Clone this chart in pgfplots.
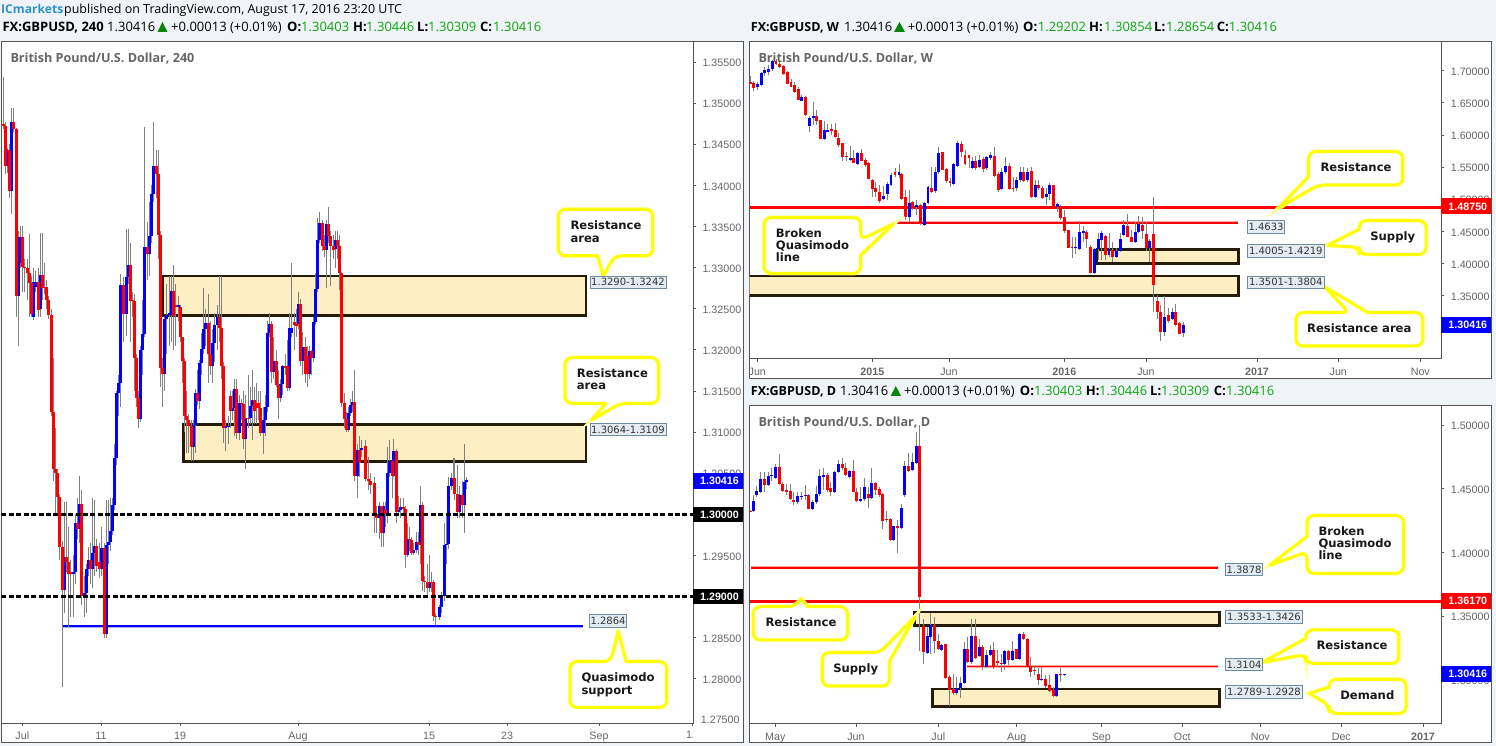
\documentclass[border=0pt]{standalone}
\usepackage{fontspec}
\usepackage{pgfplots}
\usepackage{pgfplotstable}
\pgfplotsset{compat=1.18}
\setmainfont{Liberation Sans}
\newfontfamily\hdr{Open Sans}
\newfontfamily\dv{DejaVu Sans}
\definecolor{pagebg}{HTML}{F0F3F7}
\definecolor{framec}{HTML}{555555}
\definecolor{tickc}{HTML}{666666}
\definecolor{wick}{HTML}{808080}
\definecolor{zonef}{HTML}{FDEFC3}
\definecolor{zoned}{HTML}{241C06}
\definecolor{upc}{HTML}{0000FF}
\definecolor{dnc}{HTML}{FF0000}
\definecolor{gval}{HTML}{0BA80B}
\definecolor{icb}{HTML}{2B93C9}
\definecolor{boxf}{HTML}{E3ECF3}
\definecolor{boxd}{HTML}{6F8BA0}
\definecolor{yel}{HTML}{FFFF00}
\definecolor{titlec}{HTML}{666666}

% 240 chart: x is 3 x pixel position
\pgfplotstableread{
x O H L C
10 1.3474 1.3532 1.3468 1.3472
16 1.3472 1.3477 1.3414 1.3424
22 1.3424 1.3445 1.3415 1.3443
28 1.3443 1.3450 1.3385 1.3393
34 1.3393 1.3494 1.3365 1.3477
42 1.3477 1.3494 1.3465 1.3469
49 1.3468 1.3470 1.3240 1.3265
56 1.3265 1.3345 1.3205 1.3337
62 1.3305 1.3350 1.3300 1.3337
69 1.3337 1.3350 1.3270 1.3301
75 1.3301 1.3310 1.3270 1.3299
82 1.3299 1.3310 1.3260 1.3293
88 1.3293 1.3341 1.3240 1.3281
95 1.3281 1.3290 1.3240 1.3244
101 1.3240 1.3299 1.3236 1.3282
108 1.3277 1.3296 1.3270 1.3282
115 1.3282 1.3300 1.3240 1.3248
121 1.3250 1.3342 1.3240 1.3291
128 1.3291 1.3342 1.3260 1.3275
134 1.3277 1.3305 1.3268 1.3275
140 1.3277 1.3285 1.3250 1.3261
147 1.3261 1.3265 1.3238 1.3242
155 1.3242 1.3250 1.3120 1.3125
160 1.3125 1.3190 1.3040 1.3055
167 1.3055 1.3105 1.3000 1.3050
172 1.3050 1.3055 1.3000 1.3021
178 1.3021 1.3025 1.2945 1.2960
187 1.2960 1.2968 1.2790 1.2908
193 1.2908 1.3015 1.2880 1.2948
200 1.2948 1.3015 1.2930 1.2942
206 1.2942 1.2985 1.2863 1.2927
213 1.2930 1.2945 1.2875 1.2927
219 1.2927 1.2950 1.2875 1.2930
226 1.2930 1.3000 1.2915 1.2989
232 1.2989 1.3020 1.2970 1.2982
238 1.2982 1.3046 1.2965 1.3013
245 1.3013 1.3030 1.2890 1.2901
252 1.2901 1.2925 1.2875 1.2904
259 1.2904 1.2940 1.2880 1.2934
265 1.2934 1.2960 1.2925 1.2945
271 1.2945 1.2965 1.2915 1.2934
277 1.2934 1.3020 1.2910 1.2953
283 1.2953 1.3017 1.2925 1.2962
291 1.2962 1.2970 1.2930 1.2937
298 1.2942 1.2965 1.2922 1.2934
305 1.2934 1.2985 1.2925 1.2959
312 1.2959 1.2965 1.2850 1.2855
318 1.2855 1.3017 1.2850 1.2963
325 1.2963 1.3017 1.2940 1.2966
331 1.2966 1.3020 1.2955 1.2980
337 1.2980 1.3020 1.2975 1.3011
343 1.3011 1.3085 1.3005 1.3069
349 1.3069 1.3150 1.3060 1.3148
355 1.3148 1.3170 1.3120 1.3160
362 1.3160 1.3292 1.3130 1.3279
371 1.3279 1.3288 1.3210 1.3244
378 1.3244 1.3347 1.3217 1.3288
384 1.3288 1.3347 1.3280 1.3303
390 1.3303 1.3330 1.3210 1.3259
397 1.3261 1.3270 1.3240 1.3259
403 1.3259 1.3268 1.3150 1.3190
409 1.3190 1.3195 1.3130 1.3142
415 1.3142 1.3150 1.3105 1.3116
421 1.3116 1.3205 1.3112 1.3200
427 1.3200 1.3260 1.3170 1.3219
434 1.3219 1.3471 1.3215 1.3325
441 1.3325 1.3355 1.3285 1.3317
448 1.3317 1.3380 1.3290 1.3339
455 1.3339 1.3400 1.3330 1.3389
461 1.3389 1.3477 1.3380 1.3423
468 1.3423 1.3443 1.3385 1.3414
475 1.3414 1.3443 1.3310 1.3340
481 1.3340 1.3345 1.3155 1.3178
487 1.3178 1.3190 1.3131 1.3171
493 1.3171 1.3240 1.3150 1.3238
500 1.3238 1.3280 1.3195 1.3242
507 1.3242 1.3290 1.3205 1.3245
513 1.3242 1.3290 1.3210 1.3272
520 1.3272 1.3303 1.3200 1.3241
527 1.3254 1.3280 1.3205 1.3252
534 1.3252 1.3265 1.3235 1.3254
541 1.3252 1.3255 1.3210 1.3215
548 1.3215 1.3215 1.3160 1.3186
554 1.3186 1.3190 1.3100 1.3120
560 1.3120 1.3150 1.3075 1.3115
566 1.3115 1.3122 1.3075 1.3107
573 1.3107 1.3115 1.3065 1.3082
580 1.3082 1.3115 1.3065 1.3109
586 1.3109 1.3152 1.3075 1.3148
592 1.3148 1.3175 1.3133 1.3138
598 1.3138 1.3188 1.3128 1.3184
604 1.3184 1.3220 1.3170 1.3201
611 1.3201 1.3275 1.3195 1.3225
617 1.3225 1.3250 1.3205 1.3233
624 1.3233 1.3268 1.3160 1.3195
631 1.3195 1.3235 1.3170 1.3180
637 1.3180 1.3225 1.3160 1.3208
644 1.3208 1.3245 1.3185 1.3230
651 1.3230 1.3255 1.3200 1.3240
658 1.3240 1.3290 1.3210 1.3226
665 1.3226 1.3290 1.3165 1.3180
670 1.3180 1.3185 1.3087 1.3105
677 1.3105 1.3115 1.3077 1.3107
684 1.3107 1.3120 1.3085 1.3108
691 1.3144 1.3150 1.3105 1.3126
697 1.3126 1.3150 1.3115 1.3129
704 1.3129 1.3165 1.3095 1.3152
710 1.3152 1.3165 1.3092 1.3099
717 1.3099 1.3145 1.3090 1.3135
723 1.3135 1.3140 1.3115 1.3134
730 1.3134 1.3150 1.3080 1.3091
736 1.3091 1.3145 1.3055 1.3117
744 1.3117 1.3170 1.3105 1.3116
751 1.3117 1.3155 1.3110 1.3132
757 1.3132 1.3175 1.3090 1.3139
763 1.3139 1.3155 1.3110 1.3126
770 1.3135 1.3160 1.3110 1.3129
776 1.3135 1.3150 1.3115 1.3129
782 1.3129 1.3150 1.3095 1.3099
790 1.3099 1.3130 1.3073 1.3115
796 1.3115 1.3145 1.3095 1.3130
802 1.3130 1.3235 1.3125 1.3220
808 1.3220 1.3245 1.3215 1.3232
815 1.3231 1.3235 1.3160 1.3173
821 1.3173 1.3215 1.3165 1.3186
828 1.3186 1.3200 1.3155 1.3157
835 1.3157 1.3175 1.3116 1.3141
841 1.3141 1.3165 1.3137 1.3159
847 1.3159 1.3181 1.3145 1.3180
855 1.3180 1.3195 1.3170 1.3178
862 1.3180 1.3212 1.3150 1.3154
868 1.3154 1.3245 1.3150 1.3226
875 1.3220 1.3305 1.3215 1.3226
882 1.3234 1.3245 1.3200 1.3230
888 1.3232 1.3250 1.3215 1.3229
895 1.3232 1.3270 1.3225 1.3256
901 1.3256 1.3262 1.3180 1.3187
908 1.3187 1.3222 1.3170 1.3204
915 1.3204 1.3215 1.3160 1.3171
922 1.3192 1.3205 1.3155 1.3171
928 1.3171 1.3205 1.3165 1.3198
935 1.3198 1.3200 1.3170 1.3190
941 1.3190 1.3240 1.3185 1.3234
947 1.3234 1.3293 1.3230 1.3274
953 1.3274 1.3360 1.3270 1.3334
959 1.3334 1.3368 1.3330 1.3354
966 1.3354 1.3358 1.3320 1.3326
972 1.3326 1.3340 1.3313 1.3321
978 1.3321 1.3358 1.3275 1.3353
985 1.3353 1.3374 1.3330 1.3338
991 1.3338 1.3345 1.3278 1.3326
1000 1.3326 1.3340 1.3310 1.3321
1007 1.3322 1.3345 1.3300 1.3334
1013 1.3334 1.3345 1.3310 1.3326
1019 1.3326 1.3340 1.3273 1.3293
1025 1.3293 1.3295 1.3130 1.3135
1032 1.3135 1.3148 1.3105 1.3116
1040 1.3116 1.3125 1.3100 1.3103
1046 1.3103 1.3130 1.3100 1.3123
1052 1.3123 1.3140 1.3120 1.3133
1058 1.3133 1.3150 1.3125 1.3136
1064 1.3136 1.3175 1.3040 1.3046
1072 1.3046 1.3085 1.3020 1.3078
1079 1.3078 1.3095 1.3045 1.3062
1085 1.3078 1.3090 1.3070 1.3081
1096 1.3083 1.3090 1.3040 1.3043
1104 1.3043 1.3070 1.3030 1.3040
1110 1.3040 1.3050 1.3025 1.3036
1122 1.3038 1.3045 1.2977 1.3001
1130 1.3001 1.3010 1.2977 1.2996
1138 1.2996 1.3015 1.2970 1.3010
1145 1.3010 1.3010 1.2960 1.2977
1150 1.2977 1.3015 1.2960 1.3010
1156 1.3007 1.3015 1.2985 1.3000
1162 1.3000 1.3082 1.2990 1.3050
1168 1.3050 1.3090 1.3045 1.3065
1176 1.3065 1.3070 1.3020 1.3047
1181 1.3047 1.3092 1.3045 1.3077
1188 1.3077 1.3080 1.2990 1.3003
1195 1.3003 1.3022 1.2998 1.3005
1202 1.3005 1.3020 1.2995 1.3009
1210 1.3009 1.3020 1.3000 1.3007
1217 1.3007 1.3010 1.2935 1.2951
1224 1.2951 1.2990 1.2948 1.2970
1230 1.2970 1.2985 1.2955 1.2969
1235 1.2969 1.2972 1.2950 1.2953
1242 1.2953 1.2965 1.2950 1.2957
1250 1.2957 1.2978 1.2953 1.2966
1257 1.2966 1.2978 1.2950 1.2963
1262 1.2963 1.3034 1.2940 1.3011
1268 1.3011 1.3015 1.2907 1.2919
1275 1.2919 1.2925 1.2905 1.2918
1282 1.2918 1.2940 1.2900 1.2910
1289 1.2910 1.2950 1.2905 1.2918
1296 1.2918 1.2930 1.2905 1.2916
1300 1.2918 1.2920 1.2870 1.2876
1307 1.2876 1.2880 1.2865 1.2875
1317 1.2875 1.2890 1.2872 1.2887
1325 1.2887 1.2905 1.2880 1.2901
1332 1.2901 1.2990 1.2895 1.2963
1340 1.2963 1.3000 1.2940 1.2964
1346 1.2964 1.3045 1.2958 1.3034
1354 1.3034 1.3050 1.3030 1.3044
1360 1.3044 1.3069 1.3040 1.3043
1365 1.3044 1.3069 1.3018 1.3025
1373 1.3025 1.3060 1.2995 1.3003
1380 1.3003 1.3035 1.2995 1.3023
1387 1.3023 1.3040 1.2995 1.3011
1394 1.3011 1.3085 1.2977 1.3039
1400 1.3039 1.3045 1.3031 1.3042
}\dataL

% weekly chart
\pgfplotstableread{
x O H L C
2251 1.683 1.692 1.680 1.680
2260 1.681 1.684 1.669 1.673
2272 1.674 1.683 1.670 1.679
2284 1.678 1.698 1.676 1.696
2293 1.696 1.706 1.692 1.701
2305 1.698 1.709 1.693 1.702
2317 1.702 1.717 1.700 1.715
2328 1.715 1.718 1.709 1.711
2339 1.711 1.717 1.704 1.706
2350 1.707 1.709 1.693 1.695
2362 1.698 1.699 1.679 1.680
2373 1.682 1.687 1.674 1.675
2384 1.677 1.683 1.666 1.667
2395 1.672 1.674 1.654 1.655
2405 1.653 1.662 1.653 1.659
2417 1.659 1.661 1.629 1.631
2428 1.614 1.629 1.605 1.627
2441 1.626 1.652 1.616 1.629
2450 1.630 1.639 1.616 1.622
2462 1.623 1.624 1.593 1.594
2474 1.594 1.621 1.593 1.607
2483 1.605 1.617 1.605 1.608
2495 1.609 1.617 1.600 1.606
2506 1.608 1.619 1.596 1.597
2516 1.595 1.603 1.582 1.584
2528 1.587 1.588 1.560 1.565
2540 1.567 1.574 1.559 1.565
2551 1.561 1.583 1.560 1.564
2561 1.564 1.577 1.556 1.557
2573 1.555 1.573 1.553 1.572
2585 1.572 1.578 1.559 1.560
2596 1.561 1.564 1.550 1.553
2606 1.556 1.558 1.531 1.532
2617 1.530 1.531 1.504 1.516
2627 1.517 1.527 1.504 1.512
2639 1.511 1.522 1.495 1.497
2651 1.500 1.520 1.499 1.505
2663 1.509 1.527 1.499 1.524
2673 1.522 1.541 1.521 1.538
2685 1.542 1.548 1.535 1.538
2697 1.538 1.555 1.533 1.542
2705 1.540 1.541 1.499 1.500
2717 1.503 1.515 1.468 1.472
2729 1.472 1.515 1.464 1.495
2738 1.496 1.498 1.484 1.486
2750 1.488 1.499 1.476 1.491
2762 1.491 1.493 1.460 1.463
2773 1.460 1.496 1.458 1.495
2784 1.495 1.520 1.494 1.519
2795 1.517 1.551 1.510 1.512
2807 1.513 1.551 1.510 1.543
2816 1.543 1.581 1.540 1.572
2828 1.573 1.574 1.545 1.546
2840 1.547 1.548 1.525 1.528
2850 1.529 1.533 1.519 1.525
2861 1.524 1.556 1.522 1.555
2873 1.552 1.591 1.551 1.587
2885 1.586 1.591 1.566 1.574
2895 1.569 1.577 1.553 1.555
2907 1.569 1.569 1.548 1.564
2918 1.549 1.566 1.548 1.559
2927 1.559 1.567 1.546 1.549
2938 1.551 1.569 1.549 1.561
2951 1.563 1.566 1.543 1.547
2960 1.548 1.567 1.546 1.565
2972 1.564 1.574 1.561 1.569
2983 1.567 1.582 1.534 1.537
2995 1.540 1.543 1.512 1.515
3005 1.516 1.548 1.515 1.542
3016 1.542 1.565 1.540 1.552
3028 1.552 1.556 1.515 1.516
3039 1.518 1.535 1.512 1.516
3050 1.518 1.535 1.513 1.530
3062 1.530 1.551 1.527 1.543
3070 1.543 1.550 1.527 1.529
3083 1.530 1.548 1.527 1.543
3094 1.544 1.551 1.502 1.503
3106 1.504 1.530 1.502 1.522
3116 1.522 1.530 1.515 1.518
3128 1.518 1.520 1.500 1.502
3139 1.503 1.517 1.491 1.509
3149 1.509 1.525 1.499 1.522
3160 1.522 1.523 1.489 1.490
3173 1.488 1.495 1.481 1.493
3182 1.489 1.491 1.468 1.471
3193 1.472 1.484 1.447 1.451
3205 1.452 1.453 1.424 1.425
3216 1.426 1.441 1.409 1.424
3227 1.424 1.441 1.415 1.426
3238 1.423 1.467 1.422 1.449
3250 1.447 1.458 1.434 1.450
3260 1.449 1.452 1.424 1.438
3271 1.426 1.429 1.385 1.386
3283 1.385 1.424 1.384 1.422
3295 1.422 1.447 1.406 1.438
3304 1.436 1.451 1.406 1.447
3316 1.443 1.445 1.406 1.413
3327 1.413 1.447 1.411 1.422
3338 1.421 1.434 1.403 1.411
3349 1.411 1.424 1.408 1.420
3361 1.419 1.447 1.418 1.439
3371 1.445 1.468 1.443 1.460
3382 1.459 1.477 1.441 1.442
3394 1.442 1.452 1.433 1.434
3406 1.434 1.465 1.433 1.449
3415 1.449 1.474 1.447 1.462
3427 1.460 1.473 1.439 1.450
3439 1.446 1.465 1.419 1.424
3448 1.425 1.439 1.403 1.435
3460 1.446 1.503 1.324 1.366
3473 1.342 1.351 1.314 1.324
3482 1.324 1.336 1.280 1.293
3493 1.294 1.349 1.287 1.317
3505 1.320 1.331 1.307 1.310
3517 1.314 1.331 1.313 1.324
3526 1.325 1.337 1.303 1.305
3538 1.308 1.309 1.291 1.291
3550 1.2920 1.3085 1.2865 1.3042
}\dataW

% daily chart
\pgfplotstableread{
x O H L C
2251 1.4324 1.4332 1.4314 1.4319
2260 1.4324 1.4450 1.4314 1.4403
2270 1.4450 1.4523 1.4437 1.4481
2281 1.4476 1.4633 1.4471 1.4576
2293 1.4576 1.4628 1.4476 1.4528
2305 1.4528 1.4633 1.4523 1.4599
2314 1.4599 1.4665 1.4560 1.4607
2326 1.4581 1.4691 1.4576 1.4673
2338 1.4673 1.4769 1.4528 1.4534
2347 1.4534 1.4549 1.4471 1.4484
2359 1.4489 1.4541 1.4450 1.4476
2371 1.4481 1.4541 1.4411 1.4418
2381 1.4411 1.4476 1.4371 1.4397
2393 1.4392 1.4471 1.4384 1.4442
2405 1.4437 1.4476 1.4411 1.4445
2417 1.4445 1.4528 1.4411 1.4452
2426 1.4450 1.4455 1.4337 1.4340
2438 1.4340 1.4411 1.4332 1.4392
2449 1.4392 1.4523 1.4384 1.4455
2459 1.4455 1.4654 1.4445 1.4599
2471 1.4594 1.4659 1.4489 1.4607
2482 1.4607 1.4620 1.4476 1.4489
2492 1.4502 1.4549 1.4445 1.4476
2503 1.4476 1.4638 1.4471 1.4628
2515 1.4628 1.4725 1.4620 1.4693
2527 1.4693 1.4738 1.4646 1.4665
2537 1.4665 1.4699 1.4602 1.4607
2548 1.4594 1.4646 1.4586 1.4638
2560 1.4638 1.4725 1.4471 1.4476
2570 1.4476 1.4502 1.4397 1.4403
2581 1.4405 1.4515 1.4403 1.4416
2593 1.4416 1.4586 1.4403 1.4513
2604 1.4455 1.4515 1.4345 1.4426
2615 1.4426 1.4659 1.4418 1.4544
2627 1.4544 1.4554 1.4450 1.4489
2638 1.4497 1.4515 1.4437 1.4450
2648 1.4458 1.4463 1.4183 1.4248
2660 1.4266 1.4324 1.4240 1.4256
2672 1.4261 1.4272 1.4088 1.4096
2681 1.4096 1.4209 1.4088 1.4206
2693 1.4206 1.4253 1.3992 1.4193
2704 1.4193 1.4384 1.4188 1.4345
2714 1.4450 1.4717 1.4437 1.4678
2726 1.4678 1.4777 1.4628 1.4638
2737 1.4646 1.4777 1.4638 1.4707
2749 1.4704 1.4948 1.4699 1.4835
2758 1.4835 1.5000 1.3224 1.3651
2770 1.3423 1.3480 1.3124 1.3218
2782 1.3213 1.3415 1.3205 1.3342
2791 1.3336 1.3528 1.3205 1.3433
2803 1.3428 1.3494 1.3211 1.3305
2815 1.3305 1.3363 1.3231 1.3245
2825 1.3237 1.3284 1.3224 1.3276
2837 1.3279 1.3284 1.3009 1.3014
2848 1.3022 1.3035 1.2794 1.2922
2860 1.2930 1.3048 1.2883 1.2896
2869 1.2896 1.3022 1.2883 1.2938
2881 1.2935 1.3022 1.2857 1.2977
2892 1.2975 1.3297 1.2970 1.3245
2902 1.3245 1.3336 1.3135 1.3140
2914 1.3140 1.3480 1.3127 1.3342
2926 1.3342 1.3480 1.3166 1.3171
2938 1.3184 1.3323 1.3179 1.3255
2947 1.3255 1.3276 1.3074 1.3101
2959 1.3101 1.3231 1.3093 1.3197
2970 1.3197 1.3271 1.3192 1.3231
2980 1.3231 1.3297 1.3087 1.3101
2992 1.3145 1.3231 1.3101 1.3129
3004 1.3135 1.3205 1.3061 1.3124
3013 1.3124 1.3231 1.3074 1.3226
3025 1.3226 1.3231 1.3114 1.3153
3037 1.3153 1.3302 1.3145 1.3224
3049 1.3239 1.3239 1.3161 1.3166
3059 1.3166 1.3368 1.3161 1.3357
3070 1.3357 1.3376 1.3310 1.3323
3082 1.3323 1.3328 1.3093 1.3101
3092 1.3101 1.3179 1.3022 1.3061
3103 1.3074 1.3101 1.3035 1.3066
3115 1.3043 1.3093 1.2956 1.2996
3125 1.2996 1.3101 1.2988 1.3004
3137 1.3004 1.3035 1.2935 1.2951
3148 1.2956 1.3035 1.2904 1.2912
3160 1.2917 1.2943 1.2865 1.2870
3170 1.2870 1.3048 1.2865 1.3043
3181 1.3043 1.3093 1.2983 1.3040
3193 1.3040 1.3045 1.3031 1.3042
}\dataD

\newcommand{\candles}[2]{%
\addplot[draw=none,mark=none,forget plot,error bars/.cd,y dir=both,y explicit,error mark=none,error bar style={draw=wick,line width=1pt}]
 table[x expr=\thisrow{x}/3,y expr=\thisrow{O},y error plus expr=\thisrow{H}-\thisrow{O},y error minus expr=\thisrow{O}-\thisrow{L}] {#1};
\addplot[draw=none,mark=none,forget plot,error bars/.cd,y dir=plus,y explicit,error mark=none,error bar style={draw=upc,line width=#2}]
 table[x expr=\thisrow{x}/3,y expr=\thisrow{O},y error plus expr={max(\thisrow{C}-\thisrow{O},0)},y error minus expr=0] {#1};
\addplot[draw=none,mark=none,forget plot,error bars/.cd,y dir=minus,y explicit,error mark=none,error bar style={draw=dnc,line width=#2}]
 table[x expr=\thisrow{x}/3,y expr=\thisrow{O},y error plus expr=0,y error minus expr={max(\thisrow{O}-\thisrow{C},0)}] {#1};
}
\newcommand{\zone}[4]{\addplot[fill=zonef,draw=zoned,line width=2.6pt,forget plot] coordinates {(#1,#3)(#2,#3)(#2,#4)(#1,#4)} --cycle;}
\newcommand{\thinline}[4]{%
\addplot[draw=#4!35,line width=3pt,forget plot] coordinates {(#1,#3)(#2,#3)};
\addplot[draw=#4,line width=1.9pt,forget plot] coordinates {(#1,#3)(#2,#3)};}

\pgfplotsset{panel/.style={
 scale only axis,clip=true,
 axis line style={draw=framec,line width=0.8pt},
 tick style={draw=framec,line width=0.8pt},
 major tick length=3pt,tick align=outside,
 ytick pos=right,xtick pos=bottom,yticklabel pos=right,
 tick label style={font=\fontsize{10.7}{12}\selectfont,text=tickc},
 yticklabel style={anchor=west,xshift=3pt,yshift=-1pt,/pgf/number format/.cd,fixed,fixed zerofill,precision=5,assume math mode=true},
 xticklabel style={yshift=-2.5pt},
 scaled y ticks=false,
 minor tick num=0,
}}
\tikzset{
 co/.style={draw=yel,line width=3pt,fill=white,rounded corners=7pt,line join=round,preaction={draw=yel!35,line width=4.4pt}},
 lab/.style={draw=boxd,fill=boxf,line width=0.9pt},
}
\newcommand{\seg}[3]{\node[anchor=base west,inner sep=0pt,font=\hdr\fontsize{13}{14}\selectfont] at (#1,#2) {#3};}
\newcommand{\segw}[3]{\node[anchor=base west,inner sep=0pt,font=\hdr\fontsize{12.5}{14}\selectfont] at (#1,#2) {#3};}
\newcommand{\segp}[3]{\node[anchor=base west,inner sep=0pt,font=\hdr\fontsize{12.45}{14}\selectfont] at (#1,#2) {#3};}
\newcommand{\segi}[3]{\node[anchor=base west,inner sep=0pt,font=\hdr\fontsize{12.1}{14}\selectfont] at (#1,#2) {#3};}
\newcommand{\cl}[3]{\node[anchor=base west,inner sep=0pt,font=\dv\bfseries\fontsize{11.6}{13}\selectfont,text=black!90] at (#1,#2+4.2) {#3};}
\newcommand{\cc}[3]{\node[anchor=base,inner sep=0pt,font=\dv\bfseries\fontsize{11.6}{13}\selectfont,text=black!90] at (#1,#2+4.2) {#3};}
\newcommand{\boxlab}[5]{\draw[lab] (#1,#3) rectangle (#2,#4); \node[inner sep=0pt,font=\dv\fontsize{10}{12}\selectfont,text=black!80] at ({(#1+#2)/2},{(#3+#4)/2}) {#5};}
\newcommand{\tagp}[4]{\fill[#4] (#1,#2-8) rectangle (#1+50,#2+8); \node[inner sep=0pt,font=\bfseries\fontsize{10.7}{12}\selectfont,text=white] at (#1+26.5,#2) {#3};}

\begin{document}
\begin{tikzpicture}
\useasboundingbox (0,0) rectangle (1496pt,746pt);
\fill[pagebg] (0,0) rectangle (1496pt,746pt);
\begin{scope}[shift={(0,746pt)},x=1pt,y=-1pt]
\draw[draw=framec,fill=white,line width=0.8pt] (1.3,41) rectangle (743.5,742);
\draw[draw=framec,fill=white,line width=0.8pt] (749.5,41) rectangle (1491.7,378);
\draw[draw=framec,fill=white,line width=0.8pt] (749.5,405.7) rectangle (1491.7,742.7);
\end{scope}

% 240 panel
\begin{axis}[panel,at={(1.5pt,23pt)},anchor=south west,width=691.5pt,height=682pt,
 xmin=1.5,xmax=693,ymin=1.27463,ymax=1.35755,
 xtick={22.3,101,180,298,429,507,599,692},
 xticklabels={Jul,11,19,Aug,15,23,Sep,{}},
 ytick={1.28,1.285,1.29,1.295,1.30,1.305,1.31,1.315,1.32,1.325,1.33,1.335,1.34,1.345,1.35,1.355}]
\zone{162.7}{586}{1.3242}{1.3290}
\zone{183.3}{586}{1.3064}{1.3109}
\thinline{63}{583}{1.2864}{blue}
\candles{\dataL}{3pt}
\addplot[black,line width=2.6pt,dash pattern=on 5pt off 2.4pt,forget plot] coordinates {(1.5,1.30)(693,1.30)};
\addplot[black,line width=2.6pt,dash pattern=on 5pt off 2.4pt,forget plot] coordinates {(1.5,1.29)(693,1.29)};
\end{axis}

% weekly panel
\begin{axis}[panel,at={(749.7pt,387.3pt)},anchor=south west,width=691.6pt,height=317.7pt,
 xmin=749.7,xmax=1441.3,ymin=1.2521,ymax=1.7462,
 xtick={757.3,872.3,949,1064.3,1146,1257,1338.3,1420.3},
 xticklabels={Jun,\textbf{2015},Jun,\textbf{2016},Jun,\textbf{2017},Jun,Nov},
 ytick={1.35,1.40,1.45,1.50,1.55,1.60,1.65,1.70}]
\zone{745}{1238.3}{1.3501}{1.3804}
\zone{1097}{1238.3}{1.4005}{1.4219}
\thinline{893.3}{1237.7}{1.4633}{red}
\addplot[dnc,line width=3pt,forget plot] coordinates {(749.7,1.4875)(1441.3,1.4875)};
\candles{\dataW}{2.9pt}
\end{axis}

% daily panel
\begin{axis}[panel,at={(749.7pt,22.3pt)},anchor=south west,width=691.6pt,height=318pt,
 xmin=749.7,xmax=1441.3,ymin=1.2655,ymax=1.5152,
 xtick={775.3,856,938.3,1016.7,1101.3,1182.3,1260.3,1341.3,1423},
 xticklabels={May,Jun,Jul,Aug,Sep,Oct,Nov,Dec,\textbf{2017}},
 ytick={1.30,1.35,1.40,1.45,1.50}]
\zone{914.3}{1219.3}{1.3426}{1.3533}
\zone{932.7}{1219.3}{1.2789}{1.2928}
\thinline{750.7}{1218.3}{1.3878}{red}
\thinline{967.3}{1218.3}{1.3104}{red}
\addplot[dnc,line width=3pt,forget plot] coordinates {(749.7,1.3617)(1441.3,1.3617)};
\candles{\dataD}{3pt}
\end{axis}

\begin{scope}[shift={(0,746pt)},x=1pt,y=-1pt]
% clipped tick labels
\begin{scope}\clip (694,708) rectangle (742,723);
\node[inner sep=0pt,anchor=west,font=\fontsize{10.7}{12}\selectfont,text=tickc] at (700.7,719.5) {1.27500};
\end{scope}
\begin{scope}\clip (660,727) rectangle (692.5,741);
\node[inner sep=0pt,font=\fontsize{10.7}{12}\selectfont,text=tickc] at (692,734.5) {12};
\end{scope}
% headers
\segi{1}{14}{\textbf{\textcolor{icb}{ICmarkets}}}
\segp{64}{14}{published on TradingView.com, August 17, 2016 23:20 UTC}
\seg{2.3}{31.7}{\textbf{FX:GBPUSD, 240}}
\seg{107}{31.7}{1.30416}
\fill[gval!80!black] (157.5,32) -- (167.5,32) -- (162.5,22) -- cycle;
\seg{171}{31.7}{+0.00013 (+0.01\%)}
\seg{287}{31.7}{\textbf{O:}}\seg{301}{31.7}{\textcolor{gval}{1.30403}}
\seg{353}{31.7}{\textbf{H:}}\seg{366}{31.7}{\textcolor{gval}{1.30446}}
\seg{417}{31.7}{\textbf{L:}}\seg{428}{31.7}{\textcolor{gval}{1.30309}}
\seg{480}{31.7}{\textbf{C:}}\seg{493}{31.7}{\textcolor{gval}{1.30416}}
\segw{750.7}{31.7}{\textbf{FX:GBPUSD, W}}
\seg{844}{31.7}{1.30416}
\fill[gval!80!black] (894,32) -- (905,32) -- (899.5,22) -- cycle;
\seg{907.7}{31.7}{+0.00013 (+0.01\%)}
\seg{1023}{31.7}{\textbf{O:}}\seg{1037.7}{31.7}{\textcolor{gval}{1.29202}}
\seg{1089}{31.7}{\textbf{H:}}\seg{1104}{31.7}{\textcolor{gval}{1.30854}}
\seg{1154}{31.7}{\textbf{L:}}\seg{1166}{31.7}{\textcolor{gval}{1.28654}}
\seg{1216.7}{31.7}{\textbf{C:}}\seg{1228.7}{31.7}{\textcolor{gval}{1.30416}}
\segw{750.7}{395.7}{\textbf{FX:GBPUSD, D}}
\seg{840}{395.7}{1.30416}
\fill[gval!80!black] (890.7,396) -- (901,396) -- (895.8,386) -- cycle;
\seg{904}{395.7}{+0.00013 (+0.01\%)}
\seg{1019.7}{395.7}{\textbf{O:}}\seg{1034}{395.7}{\textcolor{gval}{1.30403}}
\seg{1085.7}{395.7}{\textbf{H:}}\seg{1099}{395.7}{\textcolor{gval}{1.30446}}
\seg{1150}{395.7}{\textbf{L:}}\seg{1161}{395.7}{\textcolor{gval}{1.30309}}
\seg{1213.7}{395.7}{\textbf{C:}}\seg{1226}{395.7}{\textcolor{gval}{1.30416}}
% panel titles
\node[anchor=base west,inner sep=0pt,font=\hdr\bfseries\fontsize{12.6}{14}\selectfont,text=titlec] at (10.3,63) {British Pound/U.S. Dollar, 240};
\node[anchor=base west,inner sep=0pt,font=\hdr\bfseries\fontsize{12.6}{14}\selectfont,text=titlec] at (758.3,63) {British Pound/U.S. Dollar, W};
\node[anchor=base west,inner sep=0pt,font=\hdr\bfseries\fontsize{12.6}{14}\selectfont,text=titlec] at (758.3,427) {British Pound/U.S. Dollar, D};
% price tags
\tagp{693}{481}{1.30416}{upc}
\fill[black] (693,507) rectangle (743,522); \node[inner sep=0pt,font=\bfseries\fontsize{10.7}{12}\selectfont,text=white] at (719.5,514.7) {1.30000};
\fill[black] (693,589.3) rectangle (743,604.3); \node[inner sep=0pt,font=\bfseries\fontsize{10.7}{12}\selectfont,text=white] at (719.5,597) {1.29000};
\tagp{1441.3}{206.5}{1.48750}{dnc}
\tagp{1441.3}{325}{1.30416}{upc}
\tagp{1441.3}{600.7}{1.36170}{dnc}
\tagp{1441.3}{674}{1.30416}{upc}
% callouts
\draw[co] (600,209.3) -- (652.7,209.3) -- (652.7,255.7) -- (614.3,255.7) [sharp corners] -- (603.3,276) -- (597.7,255.7) [rounded corners=7pt] -- (558.3,255.7) -- (558.3,209.3) -- cycle;
\cl{570.3}{225.7}{Resistance}\cl{570.3}{238}{area}
\draw[co] (610,357.7) -- (658.3,357.7) -- (658.3,403.3) -- (620,403.3) [sharp corners] -- (591.7,420) -- (606,403.3) [rounded corners=7pt] -- (565,403.3) -- (565,357.7) -- cycle;
\cl{576.7}{373.3}{Resistance}\cl{576.7}{385.7}{area}
\draw[co] (640,707.3) -- (570,707.3) -- (570,661.7) -- (610.7,661.7) [sharp corners] -- (618.3,631.7) -- (626,661.7) [rounded corners=7pt] -- (666.7,661.7) -- (666.7,707.3) -- cycle;
\cl{581.3}{677.3}{Quasimodo}\cl{581.3}{690}{support}
\draw[co] (1350,151.7) -- (1402.7,151.7) -- (1402.7,185) -- (1317.7,185) [sharp corners] -- (1278.3,208.3) -- (1308.7,176.7) [rounded corners=7pt] -- (1308.7,151.7) -- cycle;
\cc{1356}{167.3}{Resistance}
\draw[co] (1400,220.7) -- (1426,220.7) -- (1426,254.3) -- (1359.3,254.3) -- (1359.3,247.3) [sharp corners] -- (1328,245.3) -- (1359.3,229.3) [rounded corners=7pt] -- (1359.3,220.7) -- cycle;
\cc{1392.7}{236.7}{Supply}
\draw[co] (1296,312.7) -- (1349.3,312.7) [sharp corners] -- (1325.3,287.3) -- (1367.7,312.7) [rounded corners=7pt] -- (1422.7,312.7) -- (1422.7,346) -- (1296,346) -- cycle;
\cc{1359.3}{328.3}{Resistance area}
\draw[co] (800,217.7) -- (860.7,217.7) -- (860.7,240) [sharp corners] -- (893.3,224) -- (860.7,255) [rounded corners=7pt] -- (860.7,273.3) -- (764,273.3) -- (764,217.7) -- cycle;
\cl{775.7}{233.3}{Broken}\cl{775.7}{245.7}{Quasimodo}\cl{775.7}{257.3}{line}
\draw[co] (753.3,606.7) -- (795,606.7) [sharp corners] -- (801,599) -- (807.7,606.7) [rounded corners=7pt] -- (847.3,606.7) -- (847.3,640) -- (753.3,640) -- cycle;
\cc{801}{622.3}{Resistance}
\draw[co] (850,652.7) -- (880,652.7) [sharp corners] -- (915,616.7) -- (889.3,661) [rounded corners=7pt] -- (889.3,686) -- (822.3,686) -- (822.3,652.7) -- cycle;
\cc{855.7}{668.3}{Supply}
\draw[co] (1350,515.7) -- (1403.3,515.7) -- (1403.3,573.3) -- (1307,573.3) -- (1307,551.7) [sharp corners] -- (1270,565) -- (1307,536.7) [rounded corners=7pt] -- (1307,515.7) -- cycle;
\cl{1318.3}{531.7}{Broken}\cl{1318.3}{543.7}{Quasimodo}\cl{1318.3}{555.3}{line}
\draw[co] (1350,630) -- (1398.7,630) -- (1398.7,663.3) -- (1306,663.3) -- (1306,654.3) [sharp corners] -- (1262.7,662.3) -- (1306,638.3) [rounded corners=7pt] -- (1306,630) -- cycle;
\cc{1352}{645.3}{Resistance}
\draw[co] (1370,679.3) -- (1406,679.3) -- (1406,713.3) -- (1329.3,713.3) -- (1329.3,705) [sharp corners] -- (1309.3,693.3) -- (1329.3,687.3) [rounded corners=7pt] -- (1329.3,679.3) -- cycle;
\cc{1367.3}{695.3}{Demand}
% value boxes, over the callout tips
\boxlab{590}{666}{276}{288}{1.3290-1.3242}
\boxlab{590}{666}{423.3}{435.7}{1.3064-1.3109}
\boxlab{589.3}{626.7}{614.3}{627}{1.2864}
\boxlab{1247.3}{1284.7}{220.7}{233.3}{1.4633}
\boxlab{1247.3}{1324.3}{244.3}{257.3}{1.4005-1.4219}
\boxlab{1247.3}{1324.3}{276}{288.3}{1.3501-1.3804}
\boxlab{1225.3}{1262.7}{563.3}{575.7}{1.3878}
\boxlab{1225.3}{1302.7}{610.7}{623.3}{1.3533-1.3426}
\boxlab{1225.3}{1262.7}{658.3}{670.7}{1.3104}
\boxlab{1225.3}{1302.7}{685.7}{698.3}{1.2789-1.2928}
\end{scope}
\end{tikzpicture}
\end{document}
